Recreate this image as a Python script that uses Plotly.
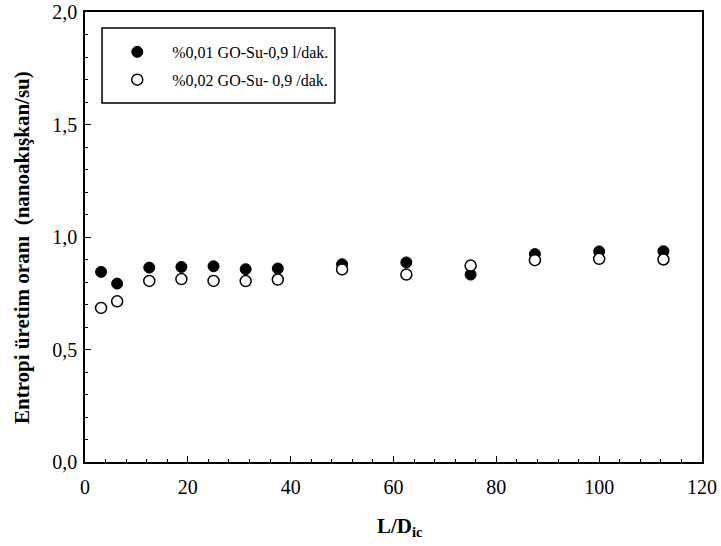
import plotly.graph_objects as go

x_vals = [3.125, 6.25, 12.5, 18.75, 25, 31.25, 37.5, 50, 62.5, 75, 87.5, 100, 112.5]
y_001 = [0.845, 0.793, 0.864, 0.867, 0.870, 0.857, 0.860, 0.879, 0.887, 0.833, 0.924, 0.936, 0.937]
y_002 = [0.685, 0.714, 0.805, 0.813, 0.805, 0.804, 0.811, 0.856, 0.833, 0.873, 0.897, 0.903, 0.900]
names = ["%0,01 GO-Su-0,9 l/dak.", "%0,02 GO-Su- 0,9 /dak."]
x_title = "<b>L/D<sub>ic</sub></b>"
y_title = "<b>Entropi üretim oranı  (nanoakışkan/su)</b>"

FONT = "Liberation Serif, Times New Roman, serif"

fig = go.Figure()
fig.add_trace(go.Scatter(x=x_vals, y=y_001, mode="markers", name=names[0], legendgroup="a",
                         marker=dict(size=11, color="black", line=dict(color="black", width=1))))
fig.add_trace(go.Scatter(x=x_vals, y=y_002, mode="markers", name=names[1], legendgroup="b",
                         marker=dict(size=11, color="white", line=dict(color="black", width=1.5))))

axis_common = dict(showline=True, linecolor="black", linewidth=1.5, mirror=True,
                   ticks="inside", tickcolor="black", tickwidth=1, ticklen=6,
                   showgrid=False, zeroline=False, automargin=False,
                   tickfont=dict(family=FONT, size=20, color="black"))

fig.update_xaxes(range=[0, 120], dtick=20, tick0=0, ticklabelstandoff=6,
                 minor=dict(ticks="inside", dtick=4, ticklen=3, tickcolor="black", tickwidth=1),
                 **axis_common)
fig.update_yaxes(range=[0, 2.0], dtick=0.5, tick0=0, tickformat=".1f", ticklabelstandoff=2,
                 minor=dict(ticks="inside", dtick=0.1, ticklen=3, tickcolor="black", tickwidth=1),
                 **axis_common)

# legend frame
fig.add_shape(type="rect", xref="paper", yref="paper", x0=0.0276, x1=0.405, y0=0.798, y1=0.9644,
              line=dict(color="black", width=1.5), fillcolor="white", layer="below")

fig.add_annotation(text=x_title, xref="paper", yref="paper", x=0.51, y=-0.144,
                   xanchor="center", yanchor="middle", showarrow=False,
                   font=dict(family=FONT, size=21, color="black"))
fig.add_annotation(text=y_title, xref="paper", yref="paper", x=-0.102, y=0.4756, textangle=-90,
                   xanchor="center", yanchor="middle", showarrow=False,
                   font=dict(family=FONT, size=21, color="black"))

fig.update_layout(
    width=721, height=546,
    margin=dict(l=85, r=19, t=12, b=84),
    plot_bgcolor="white", paper_bgcolor="white",
    separators=",.",
    font=dict(family=FONT, size=16, color="black"),
    legend=dict(x=0.028, y=0.949, xanchor="left", yanchor="top",
                borderwidth=0, bgcolor="rgba(0,0,0,0)", traceorder="grouped", tracegroupgap=4,
                itemwidth=60, font=dict(family=FONT, size=16, color="black")),
)

fig.write_html("out.html")
